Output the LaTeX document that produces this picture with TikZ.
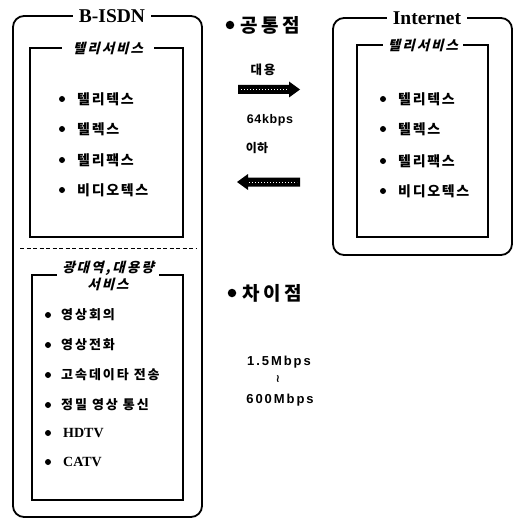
\documentclass[tikz,border=0pt]{standalone}
\usepackage{fontspec}
\setmainfont{Liberation Serif}
\newfontfamily\kr[LetterSpace=12]{Noto Sans CJK KR}
\newfontfamily\krl[LetterSpace=15]{Noto Sans CJK KR}
\newfontfamily\krw[LetterSpace=18]{Noto Sans CJK KR}
\newfontfamily\krt[LetterSpace=2]{Noto Sans CJK KR}
\newfontfamily\krsl[LetterSpace=15,FakeSlant=0.25]{Noto Sans CJK KR}
\newfontfamily\lsans[LetterSpace=5]{Liberation Sans}
\newfontfamily\lsansw[LetterSpace=15]{Liberation Sans}
\newfontfamily\dvs{DejaVu Sans}
\begin{document}
\begin{tikzpicture}[x=1pt,y=-1pt,
  outerbox/.style={draw, line width=1.8pt, rounded corners=11pt},
  innerbox/.style={draw, line width=1.3pt},
  outtitle/.style={fill=white, inner xsep=6pt, inner ysep=1pt, font=\bfseries\fontsize{19.5}{20}\selectfont},
  intitle/.style={fill=white, inner xsep=5pt, inner ysep=0pt, align=center, font=\krsl\bfseries\fontsize{13.5}{17}\selectfont},
  dot/.style={circle, fill=black, inner sep=0pt, minimum size=6pt},
  bigdot/.style={circle, fill=black, inner sep=0pt, minimum size=8.5pt},
  item/.style={anchor=west, inner sep=0pt, font=\kr\bfseries\fontsize{14}{14}\selectfont},
  itemb/.style={anchor=west, inner sep=0pt, font=\krl\bfseries\fontsize{13}{13}\selectfont},
  itemr/.style={anchor=west, inner sep=0pt, font=\bfseries\fontsize{14}{14}\selectfont},
  head/.style={anchor=west, inner sep=0pt, font=\krw\bfseries\fontsize{19}{19}\selectfont},
  small/.style={inner sep=0pt, font=\krl\bfseries\fontsize{12.5}{12.5}\selectfont},
  rate/.style={inner sep=0pt, font=\lsans\bfseries\fontsize{12.5}{12.5}\selectfont},
  ratew/.style={inner sep=0pt, font=\lsansw\bfseries\fontsize{13}{13}\selectfont},
  speckle/.style={white, line width=0.8pt, dash pattern=on 0.8pt off 2.2pt}
]
\useasboundingbox (0,0) rectangle (520,519);

% ---------- B-ISDN ----------
\draw[outerbox] (13,16) rectangle (202,517);
\node[outtitle] (tbisdn) at (112,16) {B-ISDN};
\draw[innerbox] (30,48) rectangle (183,237);
\node[intitle, inner xsep=11pt] (tl1) at (108,48) {텔리서비스};
\foreach \y/\t [count=\i] in {99/텔리텍스, 129/텔렉스, 160/텔리팩스, 190/비디오텍스}{
  \node[dot] (ld\i) at (62,\y) {};
  \node[item] (lt\i) at (77,\y) {\t};
}
\draw[line width=1pt, dash pattern=on 4pt off 2.5pt] (20,248) -- (197,248);
\draw[innerbox] (32,275) rectangle (183,500);
\node[intitle] (tl2) at (108,276) {광대역,대용량\\서비스};
\foreach \y/\t [count=\i] in {315/영상회의, 345/영상전화, 375/고속데이타\hspace{5pt}전송, 405/정밀\hspace{5pt}영상\hspace{5pt}통신}{
  \node[dot] (bd\i) at (48,\y) {};
  \node[itemb] (bt\i) at (61,\y) {\t};
}
\node[dot] (bd5) at (48,433) {};
\node[itemr] (bt5) at (63,433) {HDTV};
\node[dot] (bd6) at (48,462) {};
\node[itemr] (bt6) at (63,462) {CATV};

% ---------- Internet ----------
\draw[outerbox] (333,18) rectangle (512,255);
\node[outtitle] (tinet) at (427,18) {Internet};
\draw[innerbox] (357,45) rectangle (488,237);
\node[intitle] (tl3) at (423,45) {텔리서비스};
\foreach \y/\t [count=\i] in {99/텔리텍스, 129/텔렉스, 161/텔리팩스, 191/비디오텍스}{
  \node[dot] (rd\i) at (383,\y) {};
  \node[item] (rt\i) at (398,\y) {\t};
}

% ---------- middle ----------
\node[bigdot] (hd1) at (230,25) {};
\node[head] (h1) at (240,25) {공통점};
\node[small] (m1) at (263,70) {대용};
\fill (238,85) -- (289,85) -- (289,81.5) -- (300,89.5) -- (289,97.5) -- (289,94) -- (238,94) -- cycle;
\draw[speckle] (241,89.5) -- (288,89.5);
\node[rate] (m2) at (270,120) {64kbps};
\node[inner sep=0pt, font=\krt\bfseries\fontsize{12}{12}\selectfont] (m3) at (257,148) {이하};
\fill (300,177.5) -- (248,177.5) -- (248,174) -- (237,182) -- (248,190) -- (248,186.5) -- (300,186.5) -- cycle;
\draw[speckle] (249,182) -- (297,182);

\node[bigdot] (hd2) at (232,293) {};
\node[head] (h2) at (242,293) {차이점};
\node[ratew] (r1) at (279,362) {1.5Mbps};
\node[inner sep=0pt, font=\dvs\bfseries\fontsize{11}{11}\selectfont] (r2) at (278,379) {≀};
\node[ratew] (r3) at (280,400) {600Mbps};
\end{tikzpicture}
\end{document}
